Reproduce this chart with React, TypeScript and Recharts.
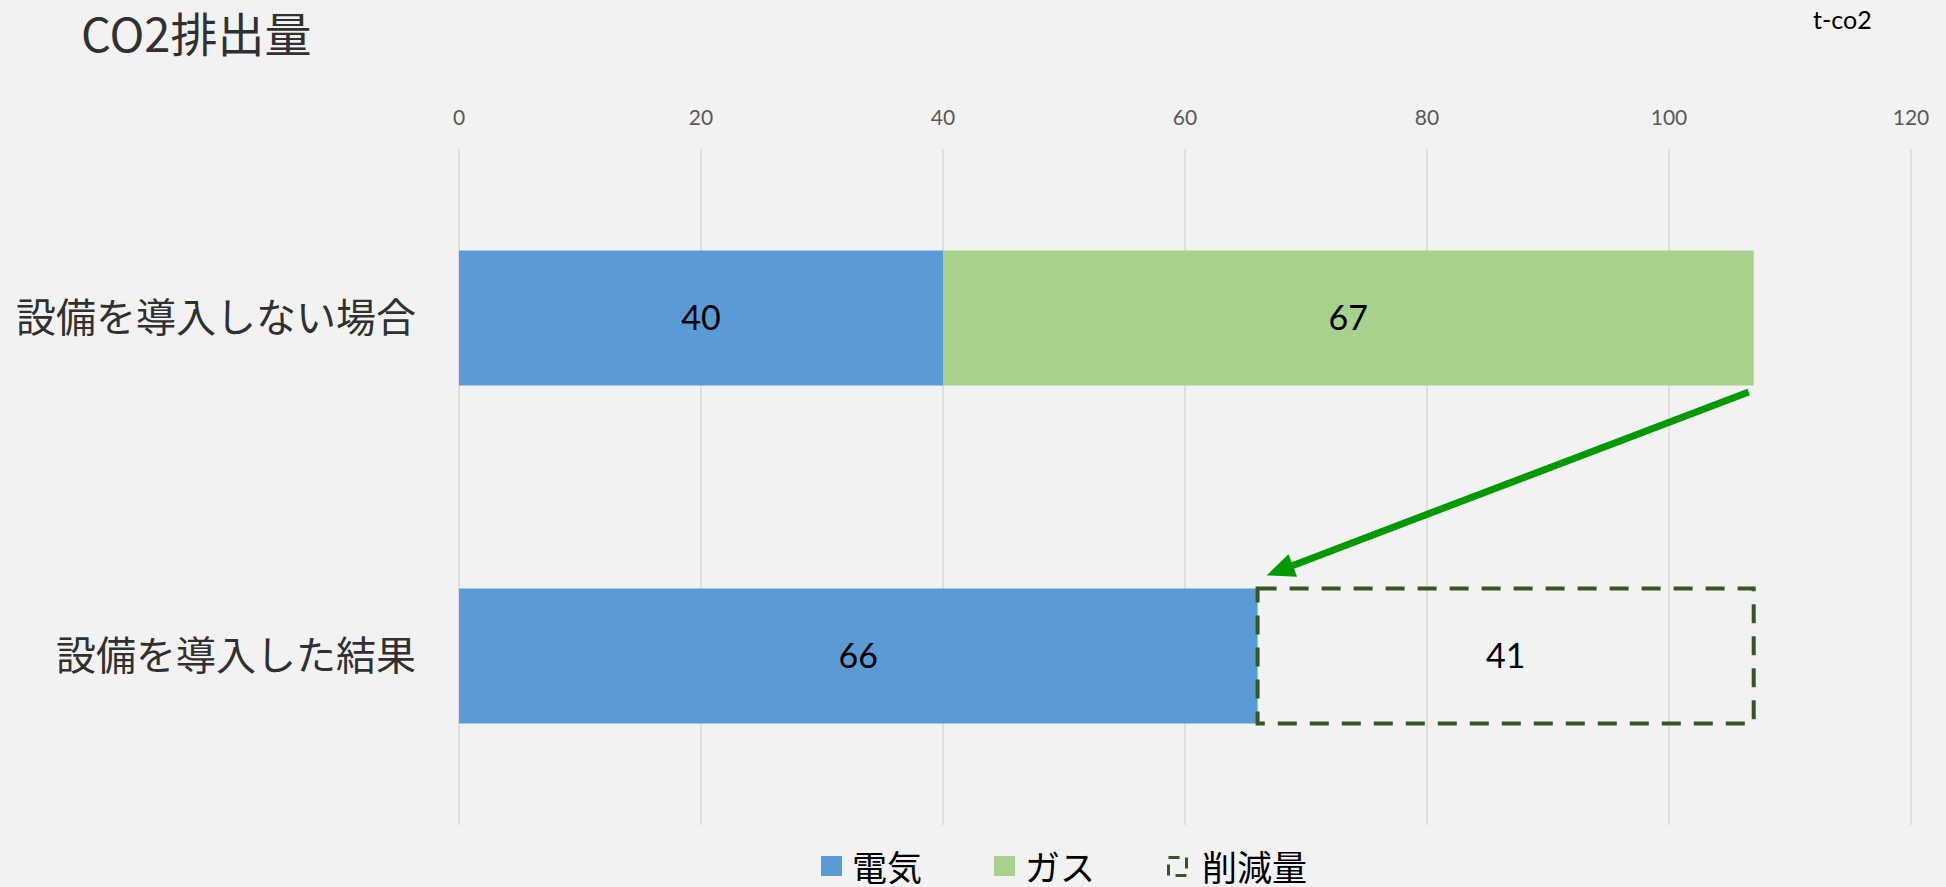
import {
  Bar,
  BarChart,
  CartesianGrid,
  LabelList,
  Legend,
  Rectangle,
  XAxis,
  YAxis,
} from "recharts";

const categories = ["設備を導入しない場合", "設備を導入した結果"];
const electricity = [40, 66];
const gas = [67, null];
const reduction = [null, 41];
const xTicks = [0, 20, 40, 60, 80, 100, 120];
const legendOrder = ["elec", "gas", "cut"];

const BLUE = "#5b9bd5";
const GREEN = "#a9d18e";
const DASH = "#375623";
const ARROW = "#009900";
const BG = "#f2f2f2";
const JP = '"Noto Sans CJK JP", "Noto Sans", sans-serif';
const NUM = 'Lato, "Noto Sans", sans-serif';

const data = categories.map((name, i) => ({
  name,
  elec: electricity[i],
  gas: gas[i],
  cut: reduction[i],
}));

function Arrow({ x1, y1, x2, y2 }: { x1: number; y1: number; x2: number; y2: number }) {
  const dx = x2 - x1;
  const dy = y2 - y1;
  const len = Math.sqrt(dx * dx + dy * dy);
  const ux = dx / len;
  const uy = dy / len;
  const head = 28;
  const half = 12;
  const bx = x2 - ux * head;
  const by = y2 - uy * head;
  return (
    <g>
      <line x1={x1} y1={y1} x2={bx + ux * 2} y2={by + uy * 2} stroke={ARROW} strokeWidth={7} />
      <polygon
        points={`${x2},${y2} ${bx - uy * half},${by + ux * half} ${bx + uy * half},${by - ux * half}`}
        fill={ARROW}
      />
    </g>
  );
}

// dashed "reduction" box, plus the arrow that comes down to it from the end of the row above
function ReductionShape(props: any) {
  const { x, y, width, height } = props;
  if (!width || !height) return null;
  // bars take 40% of a band, so the gap to the row above is 1.5 bar heights
  const gap = height * 1.5;
  return (
    <g>
      <Rectangle
        x={x}
        y={y}
        width={width}
        height={height}
        fill="none"
        stroke={DASH}
        strokeWidth={4}
        strokeDasharray="19 13"
      />
      <Arrow x1={x + width - 5} y1={y - gap + 6} x2={x + 9} y2={y - 13} />
    </g>
  );
}

function LegendContent({ payload }: any) {
  const items = [...(payload || [])].sort(
    (a: any, b: any) => legendOrder.indexOf(a.dataKey) - legendOrder.indexOf(b.dataKey)
  );
  return (
    <div style={{ display: "flex", alignItems: "center", fontFamily: JP, fontSize: 35, color: "#000" }}>
      {items.map((p: any) => (
        <div key={p.dataKey} style={{ display: "flex", alignItems: "center", marginRight: 72 }}>
          <svg width={21} height={21} style={{ marginRight: p.dataKey === "cut" ? 14 : 10 }}>
            {p.dataKey === "cut" ? (
              <rect x={1.5} y={1.5} width={18} height={18} fill="none" stroke={DASH} strokeWidth={3} strokeDasharray="11 7" />
            ) : (
              <rect x={0} y={0} width={21} height={20} fill={p.color} />
            )}
          </svg>
          <span style={{ lineHeight: "36px" }}>{p.value}</span>
        </div>
      ))}
    </div>
  );
}

const hideNull = (v: any) => (v == null ? "" : v);

export default function App() {
  return (
    <div style={{ position: "absolute", left: 0, top: 0, width: 1946, height: 887, background: BG }}>
      <div style={{ position: "absolute", left: 81, top: 2, fontFamily: JP, fontSize: 47, color: "#303030", lineHeight: "60px" }}>
        CO2排出量
      </div>
      <div style={{ position: "absolute", left: 1813, top: 4, fontFamily: NUM, fontSize: 25, color: "#000", lineHeight: "30px" }}>
        t-co2
      </div>
      <BarChart
        width={1946}
        height={887}
        data={data}
        layout="vertical"
        barCategoryGap="30%"
        margin={{ top: 109, right: 35, bottom: 62, left: 0 }}
      >
        <CartesianGrid horizontal={false} stroke="#d9d9d9" strokeWidth={1.5} />
        <XAxis
          type="number"
          orientation="top"
          domain={[0, 120]}
          ticks={xTicks}
          height={40}
          axisLine={false}
          tickLine={false}
          tickSize={0}
          tickMargin={24}
          tick={{ fontSize: 21, fill: "#595959", fontFamily: NUM }}
        />
        <YAxis
          type="category"
          dataKey="name"
          width={459}
          axisLine={false}
          tickLine={false}
          tickSize={0}
          tickMargin={43}
          tick={{ fontSize: 40, fill: "#303030", fontFamily: JP }}
        />
        <Legend
          layout="vertical"
          align="center"
          verticalAlign="middle"
          content={<LegendContent />}
          wrapperStyle={{ left: 821, top: 848, width: 700 }}
        />
        <Bar dataKey="elec" name="電気" stackId="s" fill={BLUE} isAnimationActive={false}>
          <LabelList dataKey="elec" position="center" fill="#000" fontSize={34} fontFamily={NUM} formatter={hideNull} />
        </Bar>
        <Bar dataKey="gas" name="ガス" stackId="s" fill={GREEN} isAnimationActive={false}>
          <LabelList dataKey="gas" position="center" fill="#000" fontSize={34} fontFamily={NUM} formatter={hideNull} />
        </Bar>
        <Bar
          dataKey="cut"
          name="削減量"
          stackId="s"
          fill="none"
          stroke={DASH}
          shape={ReductionShape}
          isAnimationActive={false}
        >
          <LabelList dataKey="cut" position="center" fill="#000" fontSize={34} fontFamily={NUM} formatter={hideNull} />
        </Bar>
      </BarChart>
    </div>
  );
}
